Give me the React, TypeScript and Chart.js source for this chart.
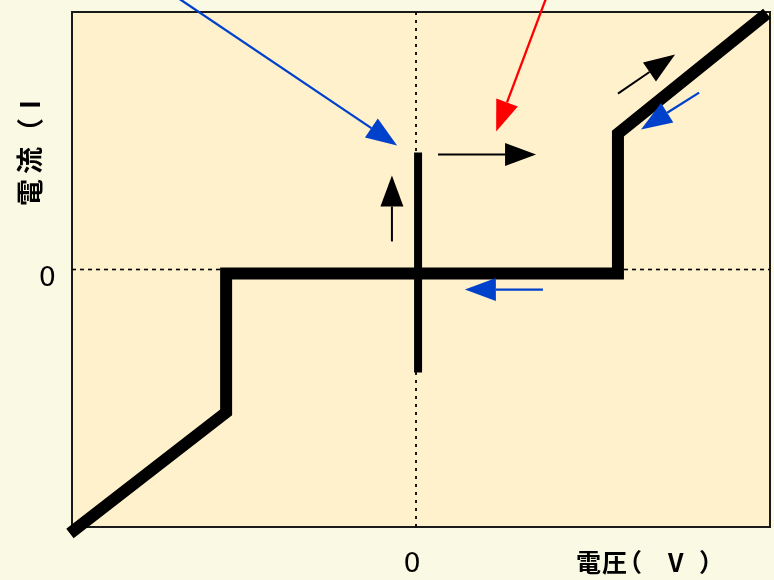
import React, { useEffect, useRef } from "react";
import { Chart, registerables } from "chart.js";

Chart.register(...registerables);

// ---- data (axis units) ----
const X_MIN = -10;
const X_MAX = 10.29;
const Y_MIN = -10;
const Y_MAX = 10;

// main I-V characteristic (thick line)
const curveX = [-10.06, -5.52, -5.52, 5.87, 5.87, 10.2];
const curveY = [-10.25, -5.55, -0.16, -0.16, 5.28, 9.94];

// vertical branch at V = 0
const branchX = [0.06, 0.06];
const branchY = [4.54, -4.0];

// dotted zero lines
const zeroHX = [X_MIN, X_MAX];
const zeroHY = [0, 0];
const zeroVX = [0, 0];
const zeroVY = [Y_MIN, Y_MAX];

// annotation arrows: from -> to (tip)
const arrowFromX = [-6.98, 3.81, 0.64, -0.7, 3.69, 5.87, 8.23];
const arrowFromY = [10.6, 10.64, 4.47, 1.09, -0.78, 6.83, 6.87];
const arrowToX = [-0.55, 2.33, 3.49, -0.7, 1.42, 7.53, 6.54];
const arrowToY = [4.82, 5.36, 4.47, 3.65, -0.78, 8.35, 5.44];
const arrowKind = ["blue", "red", "black", "black", "blue", "black", "blue"];

const tickLabels = ["0"];
const xTitleChars = ["電", "圧", "（", "V", "）"];
const yTitleChars = ["電", "流", "（", "I"];

const COLORS: Record<string, string> = {
  blue: "#0041CC",
  red: "#FF0000",
  black: "#000000",
};

const OUTER_BG = "#FAF9E3";
const PLOT_BG = "#FEF1CC";

const pts = (xs: number[], ys: number[]) => xs.map((x, i) => ({ x, y: ys[i] }));

// ink-left positions of title glyphs (layout only)
const X_TITLE_INK_LEFT = [577, 602, 633, 667, 700];
const Y_TITLE_INK_START = [205, 174, 128, 107]; // screen y where each glyph's ink begins (bottom)

const framePlugin = {
  id: "frame",
  beforeDraw(chart: any) {
    const { ctx, chartArea: a } = chart;
    ctx.save();
    ctx.fillStyle = OUTER_BG;
    ctx.fillRect(0, 0, chart.width, chart.height);
    ctx.fillStyle = PLOT_BG;
    ctx.fillRect(a.left, a.top, a.right - a.left, a.bottom - a.top);
    ctx.restore();
  },
  beforeDatasetsDraw(chart: any) {
    const { ctx, chartArea: a } = chart;
    ctx.save();
    ctx.strokeStyle = "#1a1a1a";
    ctx.lineWidth = 2;
    ctx.strokeRect(a.left, a.top, a.right - a.left, a.bottom - a.top);
    ctx.restore();
  },
  afterDatasetsDraw(chart: any) {
    const { ctx } = chart;
    const xs = chart.scales.x;
    const ys = chart.scales.y;
    ctx.save();
    for (let i = 0; i < arrowFromX.length; i++) {
      const x0 = xs.getPixelForValue(arrowFromX[i]);
      const y0 = ys.getPixelForValue(arrowFromY[i]);
      const x1 = xs.getPixelForValue(arrowToX[i]);
      const y1 = ys.getPixelForValue(arrowToY[i]);
      const col = COLORS[arrowKind[i]];
      const ang = Math.atan2(y1 - y0, x1 - x0);
      const hl = 31;
      const hw = 11.5;
      const bx = x1 - hl * Math.cos(ang);
      const by = y1 - hl * Math.sin(ang);
      ctx.strokeStyle = col;
      ctx.fillStyle = col;
      ctx.lineWidth = arrowKind[i] === "black" ? 2 : 2.3;
      ctx.beginPath();
      ctx.moveTo(x0, y0);
      ctx.lineTo(bx, by);
      ctx.stroke();
      ctx.beginPath();
      ctx.moveTo(x1, y1);
      ctx.lineTo(bx + hw * Math.sin(ang), by - hw * Math.cos(ang));
      ctx.lineTo(bx - hw * Math.sin(ang), by + hw * Math.cos(ang));
      ctx.closePath();
      ctx.fill();
    }
    ctx.restore();
  },
  afterDraw(chart: any) {
    const { ctx } = chart;
    ctx.save();
    ctx.fillStyle = "#000";
    ctx.textAlign = "left";
    ctx.textBaseline = "alphabetic";
    // x-axis title
    ctx.font = "bold 25px 'Noto Sans CJK JP'";
    const ref = ctx.measureText("電");
    const baseX = 575 - ref.actualBoundingBoxDescent;
    xTitleChars.forEach((c, i) => {
      const m = ctx.measureText(c);
      ctx.fillText(c, X_TITLE_INK_LEFT[i] + m.actualBoundingBoxLeft, baseX);
    });
    // y-axis title (rotated)
    ctx.font = "bold 27px 'Noto Sans CJK JP'";
    const ref2 = ctx.measureText("電");
    const tx = 43 - ref2.actualBoundingBoxDescent;
    ctx.translate(tx, 0);
    ctx.rotate(-Math.PI / 2);
    yTitleChars.forEach((c, i) => {
      const m = ctx.measureText(c);
      ctx.fillText(c, -Y_TITLE_INK_START[i] + m.actualBoundingBoxLeft, 0);
    });
    ctx.restore();
  },
};

export default function App() {
  const ref = useRef<HTMLCanvasElement | null>(null);

  useEffect(() => {
    document.body.style.margin = "0";
    document.body.style.background = OUTER_BG;
    const canvas = ref.current!;
    const chart = new Chart(canvas, {
      type: "scatter",
      data: {
        datasets: [
          {
            data: pts(zeroHX, zeroHY),
            showLine: true,
            borderColor: "#000",
            borderWidth: 1.6,
            borderDash: [4, 4],
            pointRadius: 0,
          },
          {
            data: pts(zeroVX, zeroVY),
            showLine: true,
            borderColor: "#000",
            borderWidth: 1.8,
            borderDash: [3, 5],
            pointRadius: 0,
          },
          {
            data: pts(branchX, branchY),
            showLine: true,
            borderColor: "#000",
            borderWidth: 8,
            borderCapStyle: "butt",
            pointRadius: 0,
            clip: false,
          },
          {
            data: pts(curveX, curveY),
            showLine: true,
            borderColor: "#000",
            borderWidth: 12,
            borderCapStyle: "butt",
            borderJoinStyle: "miter",
            pointRadius: 0,
            clip: false,
          },
        ],
      },
      options: {
        responsive: false,
        animation: false,
        devicePixelRatio: 1,
        layout: { padding: { top: 12, right: 4, left: 0, bottom: 0 } },
        plugins: {
          legend: { display: false },
          tooltip: { enabled: false },
        },
        events: [],
        scales: {
          x: {
            type: "linear",
            min: X_MIN,
            max: X_MAX,
            grid: { display: false, drawTicks: false },
            border: { display: false },
            ticks: {
              stepSize: 10,
              padding: 22,
              labelOffset: -4,
              color: "#000",
              font: { family: "'DejaVu Sans'", size: 27 },
              callback: (v: any) => (Number(v) === 0 ? tickLabels[0] : ""),
            },
            afterFit: (s: any) => {
              s.height = 53;
              s.paddingLeft = 0;
              s.paddingRight = 0;
            },
          },
          y: {
            type: "linear",
            min: Y_MIN,
            max: Y_MAX,
            grid: { display: false, drawTicks: false },
            border: { display: false },
            ticks: {
              stepSize: 10,
              padding: 16,
              labelOffset: 9,
              color: "#000",
              font: { family: "'DejaVu Sans'", size: 27 },
              callback: (v: any) => (Number(v) === 0 ? tickLabels[0] : ""),
            },
            afterFit: (s: any) => {
              s.width = 72;
              s.paddingTop = 0;
              s.paddingBottom = 0;
            },
          },
        },
      },
      plugins: [framePlugin],
    } as any);
    return () => chart.destroy();
  }, []);

  return (
    <div style={{ width: 774, height: 580, background: OUTER_BG }}>
      <canvas ref={ref} width={774} height={580} style={{ display: "block" }} />
    </div>
  );
}
